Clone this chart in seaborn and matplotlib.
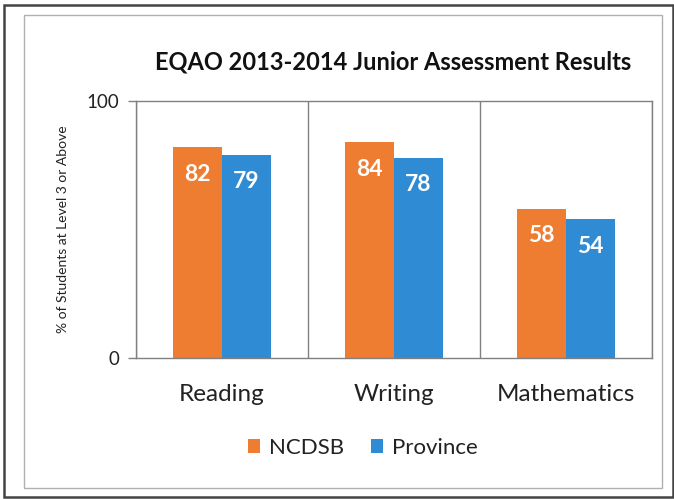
import matplotlib
matplotlib.use("Agg")
import matplotlib.pyplot as plt
import matplotlib.patches as mpatches
import seaborn as sns
import pandas as pd

categories = ["Reading", "Writing", "Mathematics"]
series_names = ["NCDSB", "Province"]
ncdsb_values = [82, 84, 58]
province_values = [79, 78, 54]
colors = ["#EE7D31", "#2F8BD4"]

rows = []
for c, a, b in zip(categories, ncdsb_values, province_values):
    rows.append({"Subject": c, "Group": series_names[0], "Value": a})
    rows.append({"Subject": c, "Group": series_names[1], "Value": b})
df = pd.DataFrame(rows)

sns.set_theme(style="white")
plt.rcParams["font.family"] = ["Lato", "DejaVu Sans"]

W, H = 674, 499
fig = plt.figure(figsize=(W / 100, H / 100), dpi=100)
fig.patch.set_facecolor("white")

# frames
fig.add_artist(mpatches.Rectangle((4 / W, 1 - 497 / H), (673 - 4) / W, (497 - 5) / H,
                                  transform=fig.transFigure, fill=False,
                                  edgecolor="#444444", linewidth=1.8))
fig.add_artist(mpatches.Rectangle((24 / W, 1 - 488 / H), (662 - 24) / W, (488 - 15) / H,
                                  transform=fig.transFigure, fill=False,
                                  edgecolor="#b0b0b0", linewidth=1.0))

ax = fig.add_axes([136 / W, 1 - 358 / H, (652 - 136) / W, (358 - 101) / H])
sns.barplot(data=df, x="Subject", y="Value", hue="Group", order=categories,
            hue_order=series_names, palette=colors, width=0.565, gap=0,
            saturation=1, ax=ax, legend=True, errorbar=None, linewidth=0)

ax.set_xlim(-0.5, 2.5)
ax.set_ylim(0, 100)
ax.set_yticks([0, 100])
ax.set_yticklabels(["0", "100"], fontsize=13.5, color="#222222")
ax.set_xticks(range(len(categories)))
ax.set_xticklabels(categories, fontsize=17.5, color="#222222")
ax.tick_params(axis="x", which="major", length=0, pad=19)
ax.set_xticks([-0.5, 0.5, 1.5, 2.5], minor=True)
ax.tick_params(axis="x", which="minor", length=7, color="#808080", width=1, direction="out")
ax.tick_params(axis="y", which="major", length=6, color="#808080", width=1, direction="out", left=True, pad=6)
ax.grid(False)
ax.grid(which="minor", axis="x", color="#808080", linewidth=1)
for s in ["left", "bottom", "top", "right"]:
    ax.spines[s].set_visible(True)
    ax.spines[s].set_color("#808080")
    ax.spines[s].set_linewidth(1)
ax.set_xlabel("")
ax.set_ylabel("% of Students at Level 3 or Above", fontsize=10, color="#222222", labelpad=13)

for cont in ax.containers:
    for bar in cont:
        h = bar.get_height()
        ax.annotate(f"{h:.0f}", (bar.get_x() + bar.get_width() / 2, h),
                    xytext=(0, -27), textcoords="offset pixels",
                    ha="center", va="center", color="white", fontsize=16.5, fontweight="bold")

fig.text(393 / W, 1 - 62 / H, "EQAO 2013-2014 Junior Assessment Results",
         ha="center", va="center", fontsize=17, fontweight="bold", color="#111111")

handles, labels = ax.get_legend_handles_labels()
ax.get_legend().remove()
fig.legend(handles, labels, loc="center", bbox_to_anchor=(363 / W, 1 - 448 / H),
           ncol=2, frameon=False, fontsize=16, handlelength=0.55, handleheight=0.55,
           handletextpad=0.4, columnspacing=1.2, labelcolor="#222222")

fig.savefig("out.png", dpi=100, facecolor="white")
